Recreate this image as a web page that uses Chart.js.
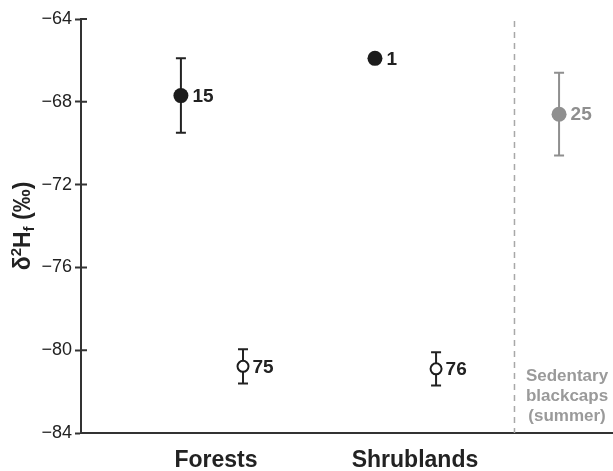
<!DOCTYPE html>
<html>
<head>
<meta charset="utf-8">
<script src="https://cdn.jsdelivr.net/npm/chart.js@4.4.1/dist/chart.umd.min.js"></script>
<style>
  html, body { margin: 0; padding: 0; background: #fff; }
  #wrap { width: 613px; height: 471px; }
</style>
</head>
<body>
<div id="wrap"><canvas id="isoChart"></canvas></div>
<script>
// 資料
const groups = ['Forests', 'Shrublands'];
const yTicks = [-84, -80, -76, -72, -68, -64];

// filled circles
const filledX = [0.824, 1.799];
const filledY = [-67.7, -65.9];
const filledErr = [1.8, 0];
const filledN = ['15', '1'];

// open circles
const openX = [1.136, 2.106];
const openY = [-80.78, -80.9];
const openErr = [0.83, 0.8];
const openN = ['75', '76'];

// sedentary blackcaps (summer)
const sedX = [2.724];
const sedY = [-68.6];
const sedErr = [2.0];
const sedN = ['25'];
const sedLabel = ['Sedentary', 'blackcaps', '(summer)'];
const dividerX = 2.5;

const FONT = "'Liberation Sans', Arial, Helvetica, sans-serif";
const INK = '#222222';
const GREY = '#8f8f8f';

function pts(xs, ys) {
    return xs.map((x, i) => ({ x: x, y: ys[i] }));
}

// error bars + n labels
const errPlugin = {
    id: 'errPlugin',
    beforeDatasetsDraw(chart) {
        const ctx = chart.ctx;
        const xs = chart.scales.x, ys = chart.scales.y;
        chart.data.datasets.forEach(ds => {
            if (!ds.err) return;
            ds.data.forEach((p, i) => {
                const e = ds.err[i];
                if (!e) return;
                const px = xs.getPixelForValue(p.x);
                const top = ys.getPixelForValue(p.y + e);
                const bot = ys.getPixelForValue(p.y - e);
                ctx.save();
                ctx.strokeStyle = ds.barColor;
                ctx.lineWidth = 2;
                ctx.beginPath();
                ctx.moveTo(px, top); ctx.lineTo(px, bot);
                ctx.moveTo(px - 5, top); ctx.lineTo(px + 5, top);
                ctx.moveTo(px - 5, bot); ctx.lineTo(px + 5, bot);
                ctx.stroke();
                ctx.restore();
            });
        });
        // inner half of the y tick marks
        ctx.save();
        ctx.strokeStyle = '#333';
        ctx.lineWidth = 2;
        ctx.beginPath();
        yTicks.forEach(v => {
            const py = ys.getPixelForValue(v);
            ctx.moveTo(chart.chartArea.left, py);
            ctx.lineTo(chart.chartArea.left + 6, py);
        });
        ctx.stroke();
        ctx.restore();
    },
    afterDatasetsDraw(chart) {
        const ctx = chart.ctx;
        const xs = chart.scales.x, ys = chart.scales.y;
        chart.data.datasets.forEach(ds => {
            if (!ds.nLabels) return;
            ds.data.forEach((p, i) => {
                ctx.save();
                ctx.fillStyle = ds.barColor;
                ctx.font = 'bold 19px ' + FONT;
                ctx.textAlign = 'left';
                ctx.textBaseline = 'middle';
                ctx.fillText(ds.nLabels[i], xs.getPixelForValue(p.x) + ds.pointRadius + 4, ys.getPixelForValue(p.y) + 1);
                ctx.restore();
            });
        });

        // Sedentary text
        ctx.save();
        ctx.fillStyle = '#9a9a9a';
        ctx.font = 'bold 17px ' + FONT;
        ctx.textAlign = 'center';
        ctx.textBaseline = 'middle';
        const cx = xs.getPixelForValue(2.764);
        sedLabel.forEach((t, i) => ctx.fillText(t, cx, 376 + i * 20));
        ctx.restore();
    },
    afterDraw(chart) {
        // y title: δ²H_f (‰)
        const ctx = chart.ctx;
        const cy = (chart.chartArea.top + chart.chartArea.bottom) / 2;
        ctx.save();
        ctx.translate(22, cy);
        ctx.rotate(-Math.PI / 2);
        ctx.fillStyle = INK;
        ctx.textBaseline = 'alphabetic';
        const big = 'bold 23px ' + FONT, small = 'bold 15px ' + FONT;
        const parts = [
            { t: 'δ', f: big, dy: 0 },
            { t: '2', f: small, dy: -9 },
            { t: 'H', f: big, dy: 0 },
            { t: 'f', f: small, dy: 4 },
            { t: ' (‰)', f: big, dy: 0 }
        ];
        let w = 0;
        parts.forEach(p => { ctx.font = p.f; w += ctx.measureText(p.t).width; });
        let x = -w / 2;
        parts.forEach(p => {
            ctx.font = p.f;
            ctx.fillText(p.t, x, 8 + p.dy);
            x += ctx.measureText(p.t).width;
        });
        ctx.restore();
    }
};

const ctx = document.getElementById('isoChart').getContext('2d');
const isoChart = new Chart(ctx, {
    type: 'scatter',
    data: {
        datasets: [
            {
                type: 'line',
                data: [{ x: dividerX, y: -64.1 }, { x: dividerX, y: -84 }],
                borderColor: '#a8a8a8',
                borderWidth: 1.5,
                borderDash: [6, 5],
                pointRadius: 0,
                fill: false
            },
            {
                data: pts(filledX, filledY),
                err: filledErr,
                nLabels: filledN,
                barColor: INK,
                backgroundColor: '#1c1c1c',
                borderColor: '#1c1c1c',
                pointRadius: 7.5,
                borderWidth: 0
            },
            {
                data: pts(openX, openY),
                err: openErr,
                nLabels: openN,
                barColor: INK,
                backgroundColor: '#ffffff',
                borderColor: '#1c1c1c',
                pointRadius: 5.5,
                borderWidth: 2
            },
            {
                data: pts(sedX, sedY),
                err: sedErr,
                nLabels: sedN,
                barColor: GREY,
                backgroundColor: GREY,
                borderColor: GREY,
                pointRadius: 7.5,
                borderWidth: 0
            }
        ]
    },
    options: {
        responsive: true,
        maintainAspectRatio: false,
        animation: false,
        layout: { autoPadding: false, padding: { top: 19, left: 0, right: 0, bottom: 0 } },
        plugins: {
            legend: { display: false },
            tooltip: { enabled: false }
        },
        scales: {
            x: {
                type: 'linear',
                min: 0.322,
                max: 2.995,
                afterBuildTicks: (scale) => {
                    scale.ticks = groups.map((g, i) => ({ value: i + 1 }));
                },
                afterFit: (scale) => { scale.height = 38; },
                ticks: {
                    callback: (v) => groups[v - 1] || '',
                    color: INK,
                    font: { family: FONT, size: 23, weight: 'bold' },
                    padding: 14,
                    maxRotation: 0,
                    autoSkip: false
                },
                grid: { display: false, drawTicks: false },
                border: { display: true, color: '#333', width: 2 }
            },
            y: {
                min: -84,
                max: -64,
                afterBuildTicks: (scale) => {
                    scale.ticks = yTicks.map(v => ({ value: v }));
                },
                afterFit: (scale) => { scale.width = 81; },
                ticks: {
                    callback: (v) => String(v).replace('-', '\u2212'),
                    color: INK,
                    font: { family: FONT, size: 18 },
                    padding: 3
                },
                grid: { drawOnChartArea: false, tickLength: 6, tickWidth: 2, tickColor: '#333' },
                border: { display: true, color: '#333', width: 2 }
            }
        }
    },
    plugins: [errPlugin]
});
</script>
</body>
</html>
